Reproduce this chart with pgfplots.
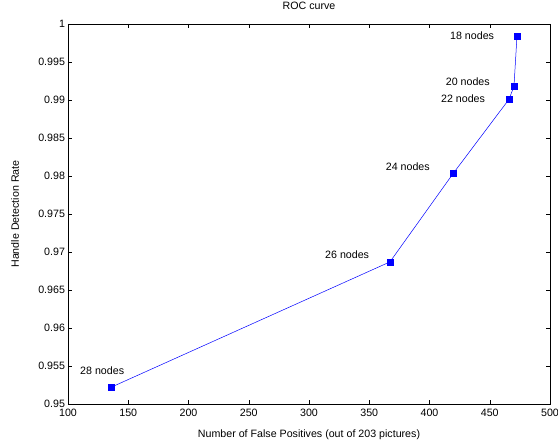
\documentclass[border=0pt]{standalone}
\usepackage{fontspec}
\setmainfont{Liberation Sans}
\usepackage{pgfplots}
\pgfplotsset{compat=1.18}
\begin{document}
\begin{tikzpicture}[font=\fontsize{10.7}{12}\selectfont]
\begin{axis}[
    width=482bp, height=380bp, scale only axis,
    xmin=100, xmax=500, ymin=0.95, ymax=1,
    xtick={100,150,...,500},
    ytick={0.95,0.955,...,1.001},
    scaled y ticks=false,
    yticklabel style={/pgf/number format/fixed, /pgf/number format/precision=3, xshift=0.5bp},
    xticklabel style={yshift=-2bp},
    /pgf/number format/assume math mode=true,
    tick align=inside,
    major tick length=4bp,
    tick style={black, line width=0.5pt},
    title={ROC curve},
    xlabel={Number of False Positives (out of 203 pictures)},
    ylabel={Handle Detection Rate},
    title style={at={(axis description cs:0.5,1.033)}, anchor=center},
    xlabel style={at={(axis description cs:0.5,-0.0816)}, anchor=center},
    ylabel style={at={(axis description cs:-0.11,0.5)}, anchor=center},
    axis line style={line width=0.6pt},
]
\addplot[blue, line width=0.5pt, mark=square*, mark size=3bp, mark options={fill=blue}] coordinates {
  (135.7, 0.9522)
  (367.2, 0.9687)
  (419.5, 0.9803)
  (466.0, 0.9901)
  (470.1, 0.9918)
  (472.6, 0.9984)
};
\node[anchor=west, inner sep=0] at (axis cs:417.0,0.9984) {18 nodes};
\node[anchor=west, inner sep=0] at (axis cs:413.4,0.9924) {20 nodes};
\node[anchor=west, inner sep=0] at (axis cs:409.5,0.9902) {22 nodes};
\node[anchor=west, inner sep=0] at (axis cs:363.6,0.9812) {24 nodes};
\node[anchor=west, inner sep=0] at (axis cs:313.3,0.9697) {26 nodes};
\node[anchor=west, inner sep=0] at (axis cs:110.0,0.9544) {28 nodes};
\coordinate (sw) at (rel axis cs:0,0);
\coordinate (ne) at (rel axis cs:1,1);
\end{axis}
\pgfresetboundingbox
\path[use as bounding box] ([shift={(-68bp,-40bp)}]sw) rectangle ([shift={(8bp,24bp)}]ne);
\end{tikzpicture}
\end{document}
